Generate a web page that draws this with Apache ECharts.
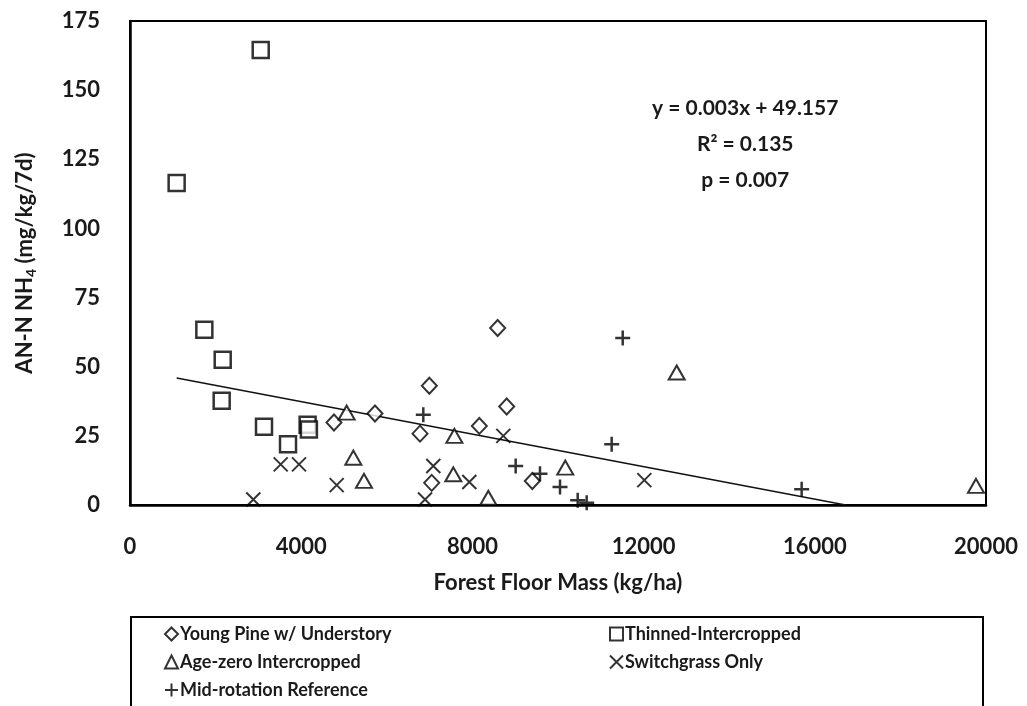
<!DOCTYPE html>
<html>
<head>
<meta charset="utf-8">
<script src="https://cdn.jsdelivr.net/npm/echarts@6/dist/echarts.min.js"></script>
<style>
  html, body { margin: 0; padding: 0; background: #fff; }
  #chart { width: 1027px; height: 706px; }
</style>
</head>
<body>
<div id="chart"></div>
<script>
// Forest floor mass (kg/ha) vs. ammonium N (mg/kg/7d), by treatment
const youngPine = [
  [4766, 29.8], [5724, 33.1], [6776, 25.8], [6994, 43.1], [7049, 8.0],
  [8162, 28.6], [8590, 64.0], [8801, 35.6], [9400, 8.7]
];
const thinnedIntercropped = [
  [1090, 116.4], [3054, 164.5], [1737, 63.4], [2166, 52.5], [2142, 37.7],
  [3131, 28.3], [3692, 22.0], [4150, 29.0], [4180, 27.3]
];
const ageZero = [
  [5062, 33.4], [5218, 17.1], [5467, 8.7], [7579, 25.0], [7554, 11.1],
  [8372, 2.6], [10170, 13.5], [12773, 47.9], [19766, 6.9]
];
const switchgrass = [
  [2881, 2.0], [3521, 14.7], [3949, 14.7], [4829, 7.2], [6893, 2.0],
  [7087, 14.1], [7928, 8.3], [8722, 25.0], [12017, 9.0]
];
const midRotation = [
  [6853, 32.6], [11512, 60.4], [11254, 22.0], [9011, 14.1], [9579, 11.3],
  [10047, 6.5], [10460, 1.7], [10670, 0.8], [15693, 5.7]
];
// Fitted linear trend, drawn from the smallest mass to where it meets zero
const trendLine = [[1090, 45.9], [16720, 0]];
const statLines = ['y = 0.003x + 49.157', 'R\u00B2 = 0.135', 'p = 0.007'];

const seriesNames = [
  'Young Pine w/ Understory', 'Thinned-Intercropped', 'Age-zero Intercropped',
  'Switchgrass Only', 'Mid-rotation Reference'
];

const FONT = 'Lato, "Open Sans", sans-serif';
const INK = '#1a1a1a';
const CROSS = 'path://M0,0L10,10M10,0L0,10';
const PLUS = 'path://M5,0L5,10M0,5L10,5';

const hollow = (w) => ({ color: '#fff', borderColor: '#000', borderWidth: w });
const strokeOnly = (w) => ({ color: 'rgba(0,0,0,0)', borderColor: '#000', borderWidth: w });

const legendText = { fontFamily: FONT, fontWeight: 'bold', fontSize: 18, lineHeight: 20, color: INK, padding: [0, 0, 0, -3] };

const chart = echarts.init(document.getElementById('chart'), null, { renderer: 'canvas' });

chart.setOption({
  animation: false,
  backgroundColor: '#fff',
  grid: {
    left: 130, right: 41, top: 21, bottom: 201,
    show: true, borderColor: '#000', borderWidth: 2, backgroundColor: 'transparent'
  },
  xAxis: {
    type: 'value', min: 0, max: 20000, interval: 4000,
    name: 'Forest Floor Mass (kg/ha)', nameLocation: 'middle', nameGap: 67,
    nameTextStyle: { fontFamily: FONT, fontWeight: 'bold', fontSize: 22, color: INK },
    axisLine: { show: true, onZero: false, lineStyle: { color: '#000', width: 2.5 } },
    axisTick: { show: false },
    splitLine: { show: false },
    axisLabel: {
      margin: 31, fontFamily: FONT, fontWeight: 'bold', fontSize: 22, color: INK,
      formatter: (v) => String(v)
    }
  },
  yAxis: {
    type: 'value', min: 0, max: 175, interval: 25,
    name: 'AN-N NH{sub|4} (mg/kg/7d)', nameLocation: 'middle', nameGap: 92, nameRotate: 90,
    nameTextStyle: {
      fontFamily: FONT, fontWeight: 'bold', fontSize: 22, color: INK,
      rich: { sub: { fontFamily: FONT, fontWeight: 'bold', fontSize: 14, color: INK, padding: [12, 0, 0, 0] } }
    },
    axisLine: { show: true, lineStyle: { color: '#000', width: 2.5 } },
    axisTick: { show: false },
    splitLine: { show: false },
    axisLabel: { margin: 30, fontFamily: FONT, fontWeight: 'bold', fontSize: 22, color: INK }
  },
  legend: [
    {
      orient: 'vertical', left: 164, top: 624, height: 120, padding: 0, itemGap: 8,
      itemWidth: 13, itemHeight: 13,
      data: [seriesNames[0], seriesNames[2], seriesNames[4]],
      textStyle: legendText
    },
    {
      orient: 'vertical', left: 609, top: 624, height: 120, padding: 0, itemGap: 8,
      itemWidth: 13, itemHeight: 13,
      data: [seriesNames[1], seriesNames[3]],
      textStyle: legendText
    }
  ],
  graphic: [
    {
      type: 'rect', left: 130, top: 616, z: 0,
      shape: { width: 852, height: 110 },
      style: { fill: '#fff', stroke: '#000', lineWidth: 2 }
    },
    {
      type: 'text', left: 652, top: 90, z: 10,
      style: {
        text: statLines.join('\n'), textAlign: 'center', lineHeight: 36,
        font: 'bold 21px ' + FONT, fill: INK
      }
    }
  ],
  series: [
    {
      name: 'trend', type: 'line', data: trendLine, showSymbol: false, symbol: 'none',
      lineStyle: { color: '#111', width: 1.5 }, silent: true, z: 1
    },
    {
      name: seriesNames[0], type: 'scatter', data: youngPine, z: 3,
      symbol: 'diamond', symbolSize: [15, 16], itemStyle: hollow(2)
    },
    {
      name: seriesNames[1], type: 'scatter', data: thinnedIntercropped, z: 3,
      symbol: 'rect', symbolSize: 16, itemStyle: hollow(2.5)
    },
    {
      name: seriesNames[2], type: 'scatter', data: ageZero, z: 3,
      symbol: 'triangle', symbolSize: [16, 14], itemStyle: hollow(2)
    },
    {
      name: seriesNames[3], type: 'scatter', data: switchgrass, z: 3,
      symbol: CROSS, symbolSize: 14, itemStyle: strokeOnly(2)
    },
    {
      name: seriesNames[4], type: 'scatter', data: midRotation, z: 3,
      symbol: PLUS, symbolSize: 15, itemStyle: strokeOnly(2.5)
    }
  ]
});
</script>
</body>
</html>
